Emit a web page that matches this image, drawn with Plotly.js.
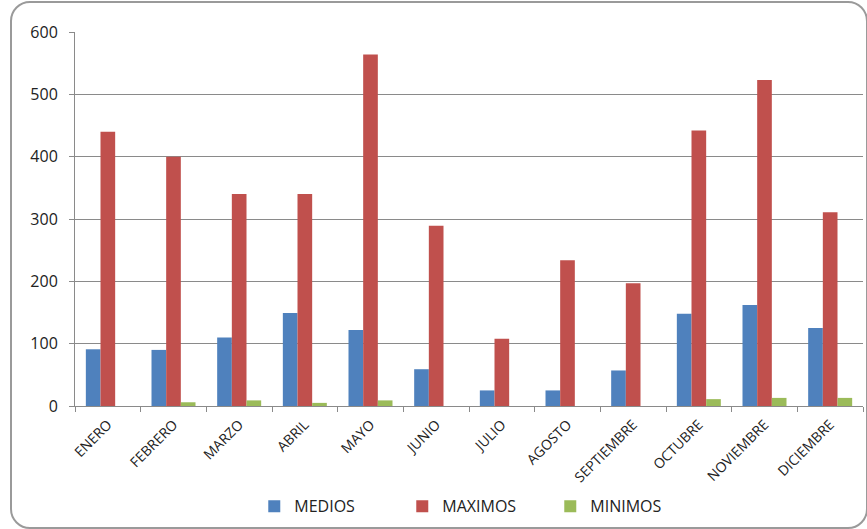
<!DOCTYPE html>
<html>
<head>
<meta charset="utf-8">
<script src="https://cdn.plot.ly/plotly-3.0.1.min.js"></script>
<style>
  html, body { margin: 0; padding: 0; background: #ffffff; }
  #wrap { position: relative; width: 867px; height: 529px; overflow: hidden; }
  #chart { position: absolute; left: 0; top: 0; width: 867px; height: 529px; }
  #frame {
    position: absolute; left: 10px; top: 1px; width: 854px; height: 524px;
    border: 2px solid #9a9a9a; border-radius: 20px; pointer-events: none;
  }
</style>
</head>
<body>
<div id="wrap">
  <div id="chart"></div>
  <div id="frame"></div>
</div>
<script>
// Monthly values per series
const months = ["ENERO", "FEBRERO", "MARZO", "ABRIL", "MAYO", "JUNIO", "JULIO",
                "AGOSTO", "SEPTIEMBRE", "OCTUBRE", "NOVIEMBRE", "DICIEMBRE"];
const medios  = [91, 90, 110, 149, 122, 59, 25, 25, 57, 148, 162, 125];
const maximos = [440, 400, 340, 340, 564, 289, 108, 234, 197, 442, 523, 311];
const minimos = [0, 6, 9, 5, 9, 0, 0, 0, 0, 11, 13, 13];
const yTicks  = [0, 100, 200, 300, 400, 500, 600];

const font = "'Open Sans', 'Liberation Sans', sans-serif";
const gridGray = "#8a8a8a";

const traces = [
  { name: "MEDIOS",  y: medios,  color: "#4F81BD" },
  { name: "MAXIMOS", y: maximos, color: "#C0504D" },
  { name: "MINIMOS", y: minimos, color: "#9BBB59" }
].map(s => ({
  type: "bar",
  x: months,
  y: s.y,
  name: s.name,
  marker: { color: s.color, line: { width: 0 } },
  hoverinfo: "x+y+name"
}));

const layout = {
  width: 867,
  height: 529,
  paper_bgcolor: "rgba(0,0,0,0)",
  plot_bgcolor: "#ffffff",
  margin: { l: 75, r: 4, t: 32, b: 123 },
  barmode: "group",
  bargap: 0.33,
  bargroupgap: 0,
  font: { family: font, color: "#222222" },
  xaxis: {
    type: "category",
    showgrid: false,
    showline: true,
    linecolor: gridGray,
    linewidth: 1,
    ticks: "outside",
    tickson: "boundaries",
    ticklen: 5,
    tickcolor: gridGray,
    tickangle: -45,
    ticklabelstandoff: 4,
    tickfont: { family: font, size: 14, color: "#222222" },
    fixedrange: true
  },
  yaxis: {
    range: [0, 600],
    tickvals: yTicks,
    showgrid: true,
    gridcolor: gridGray,
    gridwidth: 1,
    showline: true,
    linecolor: gridGray,
    linewidth: 1,
    ticks: "outside",
    ticklen: 5,
    tickcolor: gridGray,
    ticklabelstandoff: 8,
    zeroline: false,
    tickfont: { family: font, size: 16, color: "#222222" },
    fixedrange: true
  },
  showlegend: true,
  legend: {
    orientation: "h",
    x: 0.2275,
    xanchor: "left",
    y: -0.268,
    yanchor: "middle",
    entrywidth: 103,
    itemwidth: 30,
    font: { family: font, size: 16, color: "#222222" },
    bgcolor: "rgba(0,0,0,0)"
  }
};

Plotly.newPlot("chart", traces, layout, { displayModeBar: false, responsive: false });
</script>
</body>
</html>
